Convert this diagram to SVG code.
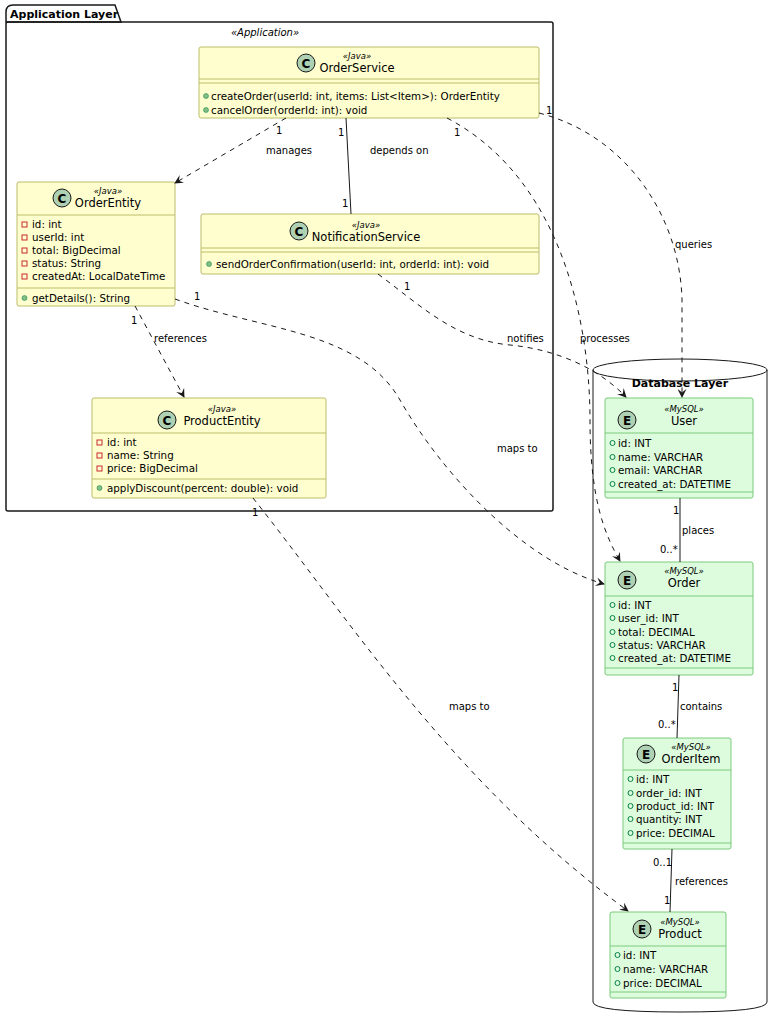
<svg xmlns="http://www.w3.org/2000/svg" width="780" height="1024" viewBox="0 0 780 1024">
<defs>
<marker id="arr" viewBox="0 0 10 10" refX="9" refY="5" markerWidth="9" markerHeight="9" orient="auto" markerUnits="userSpaceOnUse"><path d="M0,0 L10,5 L0,10 L4,5 Z" fill="#181818"/></marker>
</defs>
<style>
text{font-family:"DejaVu Sans",sans-serif;fill:#000}
.m{font-size:10.3px}
.st{font-size:8.5px;font-style:italic}
.nm{font-size:11.5px}
.lb{font-size:10px}
.cls{fill:#FEFECE;stroke:#BDBD6A;stroke-width:1}
.ent{fill:#DDFBDD;stroke:#7CCB7C;stroke-width:1}
.dvc{stroke:#BDBD6A;stroke-width:1}
.dve{stroke:#7CCB7C;stroke-width:1}
.spot{fill:#ADD1B2;stroke:#181818;stroke-width:1}
.sl{font-size:11px;font-weight:bold}
.priv{fill:none;stroke:#C82930;stroke-width:1}
.pub{fill:#84BE84;stroke:#038048;stroke-width:0.5}
.fld{fill:none;stroke:#038048;stroke-width:1}
.dash{fill:none;stroke:#181818;stroke-width:1;stroke-dasharray:5,5}
.sol{fill:none;stroke:#181818;stroke-width:1}
</style>
<g id="app-layer">
<path d="M6,22 L6,12 Q6,5 13,5 L115,5 L121,22 Z" fill="none" stroke="#181818" stroke-width="1.5"/>
<rect x="6" y="22" width="547" height="489" fill="none" stroke="#181818" stroke-width="1.5" rx="2"/>
<text x="10" y="18" class="sl">Application Layer</text>
<text x="265" y="36" text-anchor="middle" class="st" style="font-size:10px">«Application»</text>
</g>
<g id="db-layer">
<path d="M593,370 L593,1002 Q593,1012 680,1012 Q767,1012 767,1002 L767,370" fill="none" stroke="#181818" stroke-width="1"/>
<ellipse cx="680" cy="370" rx="87" ry="11" fill="none" stroke="#181818" stroke-width="1"/>
<text x="680" y="387" text-anchor="middle" class="sl">Database Layer</text>
</g>
<g id="OrderService">
<rect x="199" y="47" width="340" height="71" rx="2" class="cls"/>
<circle cx="306" cy="63" r="9" class="spot"/><text x="306" y="67.5" text-anchor="middle" style="font-size:12px;font-weight:bold">C</text>
<text x="357" y="59" text-anchor="middle" class="st">«Java»</text>
<text x="357" y="72" text-anchor="middle" class="nm">OrderService</text>
<line x1="199" y1="79" x2="539" y2="79" class="dvc"/><line x1="199" y1="83" x2="539" y2="83" class="dvc"/>
<circle cx="206" cy="96" r="2.5" class="pub"/><text x="211" y="99.5" class="m">createOrder(userId: int, items: List&lt;Item&gt;): OrderEntity</text>
<circle cx="206" cy="110" r="2.5" class="pub"/><text x="211" y="113.5" class="m">cancelOrder(orderId: int): void</text>
</g>
<g id="OrderEntity">
<rect x="17" y="182" width="158" height="124" rx="2" class="cls"/>
<circle cx="62" cy="198" r="9" class="spot"/><text x="62" y="202.5" text-anchor="middle" style="font-size:12px;font-weight:bold">C</text>
<text x="108" y="194" text-anchor="middle" class="st">«Java»</text>
<text x="108" y="207" text-anchor="middle" class="nm">OrderEntity</text>
<line x1="17" y1="215" x2="175" y2="215" class="dvc"/>
<rect x="22" y="222" width="5" height="5" class="priv"/><text x="32" y="228" class="m">id: int</text>
<rect x="22" y="235" width="5" height="5" class="priv"/><text x="32" y="241" class="m">userId: int</text>
<rect x="22" y="248" width="5" height="5" class="priv"/><text x="32" y="254" class="m">total: BigDecimal</text>
<rect x="22" y="261" width="5" height="5" class="priv"/><text x="32" y="267" class="m">status: String</text>
<rect x="22" y="274" width="5" height="5" class="priv"/><text x="32" y="280" class="m">createdAt: LocalDateTime</text>
<line x1="17" y1="288" x2="175" y2="288" class="dvc"/>
<circle cx="24.5" cy="298" r="2.5" class="pub"/><text x="32" y="301.5" class="m">getDetails(): String</text>
</g>
<g id="NotificationService">
<rect x="201" y="214" width="338" height="60" rx="2" class="cls"/>
<circle cx="299" cy="231" r="9" class="spot"/><text x="299" y="235.5" text-anchor="middle" style="font-size:12px;font-weight:bold">C</text>
<text x="366" y="228" text-anchor="middle" class="st">«Java»</text>
<text x="366" y="241" text-anchor="middle" class="nm">NotificationService</text>
<line x1="201" y1="248" x2="539" y2="248" class="dvc"/><line x1="201" y1="252" x2="539" y2="252" class="dvc"/>
<circle cx="209" cy="264" r="2.5" class="pub"/><text x="216" y="267.5" class="m">sendOrderConfirmation(userId: int, orderId: int): void</text>
</g>
<g id="ProductEntity">
<rect x="92" y="398" width="234" height="100" rx="2" class="cls"/>
<circle cx="167" cy="420" r="9" class="spot"/><text x="167" y="424.5" text-anchor="middle" style="font-size:12px;font-weight:bold">C</text>
<text x="222" y="412" text-anchor="middle" class="st">«Java»</text>
<text x="222" y="425" text-anchor="middle" class="nm">ProductEntity</text>
<line x1="92" y1="433" x2="326" y2="433" class="dvc"/>
<rect x="97" y="440" width="5" height="5" class="priv"/><text x="107" y="446" class="m">id: int</text>
<rect x="97" y="453" width="5" height="5" class="priv"/><text x="107" y="459" class="m">name: String</text>
<rect x="97" y="466" width="5" height="5" class="priv"/><text x="107" y="472" class="m">price: BigDecimal</text>
<line x1="92" y1="479" x2="326" y2="479" class="dvc"/>
<circle cx="99.5" cy="488" r="2.5" class="pub"/><text x="107" y="491.5" class="m">applyDiscount(percent: double): void</text>
</g>
<g id="User">
<rect x="605" y="398" width="148" height="100" rx="2" class="ent"/>
<circle cx="627" cy="420" r="9" class="spot"/><text x="627" y="424.5" text-anchor="middle" style="font-size:12px;font-weight:bold">E</text>
<text x="684" y="412" text-anchor="middle" class="st">«MySQL»</text>
<text x="684" y="425" text-anchor="middle" class="nm">User</text>
<line x1="605" y1="433" x2="753" y2="433" class="dve"/>
<circle cx="612.5" cy="443" r="2.5" class="fld"/><text x="618" y="446.5" class="m">id: INT</text>
<circle cx="612.5" cy="457" r="2.5" class="fld"/><text x="618" y="460.5" class="m">name: VARCHAR</text>
<circle cx="612.5" cy="470" r="2.5" class="fld"/><text x="618" y="473.5" class="m">email: VARCHAR</text>
<circle cx="612.5" cy="484" r="2.5" class="fld"/><text x="618" y="487.5" class="m">created_at: DATETIME</text>
<line x1="605" y1="492" x2="753" y2="492" class="dve"/>
</g>
<g id="Order">
<rect x="605" y="562" width="148" height="113" rx="2" class="ent"/>
<circle cx="627" cy="580" r="9" class="spot"/><text x="627" y="584.5" text-anchor="middle" style="font-size:12px;font-weight:bold">E</text>
<text x="684" y="574" text-anchor="middle" class="st">«MySQL»</text>
<text x="684" y="587" text-anchor="middle" class="nm">Order</text>
<line x1="605" y1="596" x2="753" y2="596" class="dve"/>
<circle cx="612.5" cy="605" r="2.5" class="fld"/><text x="618" y="608.5" class="m">id: INT</text>
<circle cx="612.5" cy="618" r="2.5" class="fld"/><text x="618" y="621.5" class="m">user_id: INT</text>
<circle cx="612.5" cy="632" r="2.5" class="fld"/><text x="618" y="635.5" class="m">total: DECIMAL</text>
<circle cx="612.5" cy="645" r="2.5" class="fld"/><text x="618" y="648.5" class="m">status: VARCHAR</text>
<circle cx="612.5" cy="658" r="2.5" class="fld"/><text x="618" y="661.5" class="m">created_at: DATETIME</text>
<line x1="605" y1="668" x2="753" y2="668" class="dve"/>
</g>
<g id="OrderItem">
<rect x="623" y="738" width="108" height="111" rx="2" class="ent"/>
<circle cx="646" cy="754" r="9" class="spot"/><text x="646" y="758.5" text-anchor="middle" style="font-size:12px;font-weight:bold">E</text>
<text x="691" y="750" text-anchor="middle" class="st">«MySQL»</text>
<text x="691" y="763" text-anchor="middle" class="nm">OrderItem</text>
<line x1="623" y1="770" x2="731" y2="770" class="dve"/>
<circle cx="630.5" cy="779" r="2.5" class="fld"/><text x="636" y="782.5" class="m">id: INT</text>
<circle cx="630.5" cy="793" r="2.5" class="fld"/><text x="636" y="796.5" class="m">order_id: INT</text>
<circle cx="630.5" cy="806" r="2.5" class="fld"/><text x="636" y="809.5" class="m">product_id: INT</text>
<circle cx="630.5" cy="819" r="2.5" class="fld"/><text x="636" y="822.5" class="m">quantity: INT</text>
<circle cx="630.5" cy="833" r="2.5" class="fld"/><text x="636" y="836.5" class="m">price: DECIMAL</text>
<line x1="623" y1="843" x2="731" y2="843" class="dve"/>
</g>
<g id="Product">
<rect x="610" y="912" width="116" height="86" rx="2" class="ent"/>
<circle cx="642" cy="929" r="9" class="spot"/><text x="642" y="933.5" text-anchor="middle" style="font-size:12px;font-weight:bold">E</text>
<text x="680" y="925" text-anchor="middle" class="st">«MySQL»</text>
<text x="680" y="938" text-anchor="middle" class="nm">Product</text>
<line x1="610" y1="946" x2="726" y2="946" class="dve"/>
<circle cx="617.5" cy="955" r="2.5" class="fld"/><text x="623" y="958.5" class="m">id: INT</text>
<circle cx="617.5" cy="969" r="2.5" class="fld"/><text x="623" y="972.5" class="m">name: VARCHAR</text>
<circle cx="617.5" cy="983" r="2.5" class="fld"/><text x="623" y="986.5" class="m">price: DECIMAL</text>
<line x1="610" y1="992" x2="726" y2="992" class="dve"/>
</g>
<g id="connectors">
<path d="M286,118 L175,183" class="dash" marker-end="url(#arr)"/>
<text x="276" y="134" class="lb">1</text><text x="266" y="154" class="lb">manages</text>
<path d="M346,118 L351,214" class="sol"/>
<text x="338" y="136" class="lb">1</text><text x="370" y="154" class="lb">depends on</text><text x="342" y="207" class="lb">1</text>
<path d="M447,118 C565,180 590,330 590,420 C590,500 605,535 620,561" class="dash" marker-end="url(#arr)"/>
<text x="454" y="136" class="lb">1</text><text x="580" y="342" class="lb">processes</text>
<path d="M539,113 C625,135 680,215 682,300 L682,397" class="dash" marker-end="url(#arr)"/>
<text x="546" y="114" class="lb">1</text><text x="675" y="248" class="lb">queries</text>
<path d="M378,274 C420,305 455,340 510,345 C560,350 600,370 626,397" class="dash" marker-end="url(#arr)"/>
<text x="404" y="290" class="lb">1</text><text x="507" y="342" class="lb">notifies</text>
<path d="M175,299 C260,330 360,330 400,400 C440,470 520,560 604,584" class="dash" marker-end="url(#arr)"/>
<text x="194" y="300" class="lb">1</text><text x="497" y="452" class="lb">maps to</text>
<path d="M135,306 L184,397" class="dash" marker-end="url(#arr)"/>
<text x="131" y="324" class="lb">1</text><text x="154" y="342" class="lb">references</text>
<path d="M253,498 C350,620 450,780 628,911" class="dash" marker-end="url(#arr)"/>
<text x="252" y="516" class="lb">1</text><text x="449" y="710" class="lb">maps to</text>
<path d="M680,498 L680,562" class="sol"/>
<text x="673" y="514" class="lb">1</text><text x="682" y="534" class="lb">places</text><text x="660" y="553" class="lb">0..*</text>
<path d="M679,675 L677,738" class="sol"/>
<text x="672" y="691" class="lb">1</text><text x="680" y="710" class="lb">contains</text><text x="658" y="728" class="lb">0..*</text>
<path d="M672,849 L670,912" class="sol"/>
<text x="653" y="866" class="lb">0..1</text><text x="675" y="885" class="lb">references</text><text x="664" y="904" class="lb">1</text>
</g>
</svg>
